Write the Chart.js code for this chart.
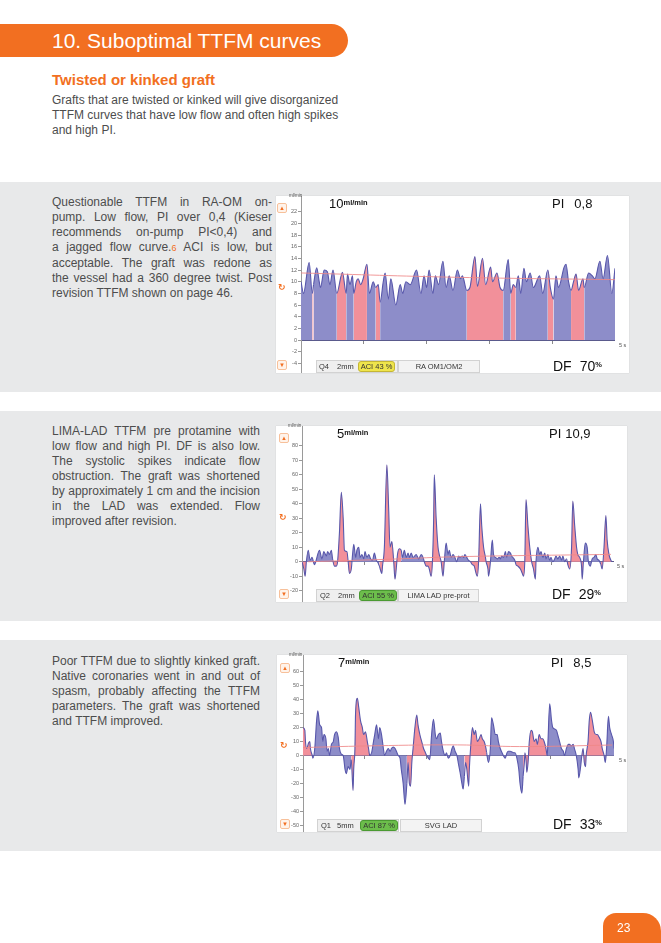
<!DOCTYPE html>
<html><head><meta charset="utf-8">
<script src="https://cdn.jsdelivr.net/npm/chart.js@4.4.1/dist/chart.umd.min.js"></script>
<style>
html,body{margin:0;padding:0;background:#fff}
body{width:661px;height:943px;position:relative;overflow:hidden;font-family:"Liberation Sans",Arial,Helvetica,sans-serif;color:#4d4d4d}
.a{position:absolute}
.hdr{left:0;top:24px;width:348px;height:33px;background:#f26f21;border-radius:0 17px 17px 0}
.hdr span{position:absolute;left:52px;top:0;line-height:33px;font-size:21px;color:#fff;white-space:nowrap}
.sub{left:52px;top:71px;font-size:15px;font-weight:bold;color:#f26f21;white-space:nowrap}
.intro{left:52px;top:93px;font-size:12px;line-height:15px;color:#4d4d4d;white-space:nowrap}
.panel{left:0;width:661px;background:#e8e9ea}
.txt{left:52px;font-size:12px;line-height:15px;color:#4d4d4d}
.txt div{text-align:justify;text-align-last:justify}
.txt div.last{text-align:left;text-align-last:left}
.ref{color:#f26f21;font-size:9px}
.box{background:#fff;box-shadow:0 0 1px rgba(0,0,0,.18)}
canvas{position:absolute}
.big{font-size:13px;color:#111;white-space:nowrap;line-height:13px}
.df{font-size:14px;color:#111;white-space:nowrap;line-height:14px}
.sup{font-size:7.5px;font-weight:bold;vertical-align:top;position:relative;top:-1px}
.tiny{font-size:4.5px;color:#555;white-space:nowrap}
.ss{font-size:5.5px;color:#555;white-space:nowrap}
.ic{width:8px;height:8px;border:1px solid #f7c09a;border-radius:2px;background:#fff3ea;color:#f26f21;font-size:6px;line-height:8px;text-align:center}
.rf{color:#f26f21;font-size:9px;font-weight:bold;font-family:"DejaVu Sans";line-height:9px}
.bar{height:11px;background:#efefef;border:1px solid #d2d2d2;font-size:7.5px;line-height:11px;color:#333;white-space:nowrap}
.bar span{position:absolute;top:0}
.bar span.badge{top:0;height:9px;line-height:9px;border-radius:3px;text-align:center;border:1px solid}
.nmc{height:11px;background:#f3f3f3;border:1px solid #d2d2d2;font-size:7.5px;line-height:11px;color:#333;white-space:nowrap;text-align:center}
.pg{left:603px;top:913px;width:58px;height:30px;background:#f26f21;border-radius:13px 18px 0 0}
.pg span{position:absolute;left:14px;top:8px;color:#fff;font-size:12px}
</style></head>
<body>
<div class="a hdr"><span>10. Suboptimal TTFM curves</span></div>
<div class="a sub">Twisted or kinked graft</div>
<div class="a intro">Grafts that are twisted or kinked will give disorganized<br>TTFM curves that have low flow and often high spikes<br>and high PI.</div>

<div class="a panel" style="top:182px;height:210px"></div>
<div class="a panel" style="top:411px;height:210px"></div>
<div class="a panel" style="top:640px;height:211px"></div>

<div class="a txt" style="top:195px;width:220px">
<div>Questionable TTFM in RA-OM on-</div>
<div>pump. Low flow, PI over 0,4 (Kieser</div>
<div>recommends on-pump PI&lt;0,4) and</div>
<div>a jagged flow curve.<span class="ref">6</span> ACI is low, but</div>
<div>acceptable. The graft was redone as</div>
<div>the vessel had a 360 degree twist. Post</div>
<div class="last">revision TTFM shown on page 46.</div>
</div>
<div class="a txt" style="top:424px;width:208px">
<div>LIMA-LAD TTFM pre protamine with</div>
<div>low flow and high PI. DF is also low.</div>
<div>The systolic spikes indicate flow</div>
<div>obstruction. The graft was shortened</div>
<div>by approximately 1 cm and the incision</div>
<div>in the LAD was extended. Flow</div>
<div class="last">improved after revision.</div>
</div>
<div class="a txt" style="top:654px;width:208px">
<div>Poor TTFM due to slightly kinked graft.</div>
<div>Native coronaries went in and out of</div>
<div>spasm, probably affecting the TTFM</div>
<div>parameters. The graft was shortened</div>
<div class="last">and TTFM improved.</div>
</div>

<!-- chart 1 -->
<div class="a box" style="left:276px;top:196px;width:353px;height:177px"></div>
<canvas id="c1" width="339" height="177" style="left:276px;top:196px;width:339px;height:177px"></canvas>
<div class="a tiny" style="left:289px;top:193px">ml/min</div>
<div class="a ic" style="left:277px;top:203px">▲</div>
<div class="a rf" style="left:278px;top:283px">↻</div>
<div class="a ic" style="left:277px;top:360px">▼</div>
<div class="a big" style="left:329px;top:197px">10<span class="sup">ml/min</span></div>
<div class="a big" style="left:552px;top:197px">PI<span style="margin-left:10px">0,8</span></div>
<div class="a df" style="left:553px;top:359px">DF<span style="margin-left:8px">70</span><span class="sup">%</span></div>
<div class="a ss" style="left:619px;top:342px">5 s</div>
<div class="a bar" style="left:316px;top:360px;width:80px">
<span style="left:2px">Q4</span><span style="left:20px">2mm</span>
<span class="badge" style="left:41px;width:35px;background:#efe54c;border-color:#c5b634">ACI 43 %</span>
</div>
<div class="a nmc" style="left:398px;top:360px;width:80px">RA OM1/OM2</div>

<!-- chart 2 -->
<div class="a box" style="left:276px;top:426px;width:351px;height:176px"></div>
<canvas id="c2" width="337" height="176" style="left:277px;top:426px;width:337px;height:176px"></canvas>
<div class="a tiny" style="left:288px;top:423px">ml/min</div>
<div class="a ic" style="left:279px;top:433px">▲</div>
<div class="a rf" style="left:279px;top:513px">↻</div>
<div class="a ic" style="left:279px;top:589px">▼</div>
<div class="a big" style="left:337px;top:427px">5<span class="sup">ml/min</span></div>
<div class="a big" style="left:549px;top:427px">PI<span style="margin-left:4px">10,9</span></div>
<div class="a df" style="left:552px;top:587px">DF<span style="margin-left:8px">29</span><span class="sup">%</span></div>
<div class="a ss" style="left:617px;top:563px">5 s</div>
<div class="a bar" style="left:316px;top:589px;width:80px">
<span style="left:3px">Q2</span><span style="left:21px">2mm</span>
<span class="badge" style="left:42px;width:36px;background:#6cbd4b;border-color:#4a9a32">ACI 55 %</span>
</div>
<div class="a nmc" style="left:398px;top:589px;width:79px">LIMA LAD pre-prot</div>

<!-- chart 3 -->
<div class="a box" style="left:277px;top:655px;width:350px;height:177px"></div>
<canvas id="c3" width="336" height="177" style="left:278px;top:655px;width:336px;height:177px"></canvas>
<div class="a tiny" style="left:289px;top:652px">ml/min</div>
<div class="a ic" style="left:280px;top:663px">▲</div>
<div class="a rf" style="left:280px;top:741px">↻</div>
<div class="a ic" style="left:280px;top:819px">▼</div>
<div class="a big" style="left:338px;top:656px">7<span class="sup">ml/min</span></div>
<div class="a big" style="left:551px;top:656px">PI<span style="margin-left:10px">8,5</span></div>
<div class="a df" style="left:553px;top:817px">DF<span style="margin-left:8px">33</span><span class="sup">%</span></div>
<div class="a ss" style="left:619px;top:757px">5 s</div>
<div class="a bar" style="left:317px;top:819px;width:80px">
<span style="left:3px">Q1</span><span style="left:19px">5mm</span>
<span class="badge" style="left:42px;width:36px;background:#6cbd4b;border-color:#4a9a32">ACI 87 %</span>
</div>
<div class="a nmc" style="left:400px;top:819px;width:80px">SVG LAD</div>

<div class="a pg"><span>23</span></div>

<script>
// ---------- data ----------
const xTicks = [1, 2, 3, 4];

// Chart 1: RA-OM on-pump (ml/min vs s)
const t1 = [0.00,0.04,0.13,0.18,0.20,0.25,0.29,0.31,0.37,0.42,
            0.46,0.51,0.57,0.66,0.72,0.74,0.78,0.82,0.84,0.88,
            0.91,0.95,0.99,1.05,1.09,1.15,1.19,1.23,1.26,1.31,
            1.34,1.39,1.43,1.51,1.58,1.62,1.67,1.74,1.84,1.91,
            1.96,2.00,2.04,2.10,2.14,2.19,2.26,2.31,2.36,2.42,
            2.49,2.54,2.57,2.64,2.69,2.77,2.81,2.89,2.94,3.02,
            3.05,3.12,3.17,3.22,3.30,3.34,3.38,3.42,3.46,3.50,
            3.55,3.59,3.65,3.70,3.80,3.85,3.93,3.97,4.02,4.06,
            4.10,4.19,4.22,4.26,4.30,4.34,4.38,4.42,4.49,4.51,
            4.58,4.64,4.68,4.76,4.81,4.88,4.95,5.00];
const flow1 = [10,8,13.3,8,9.5,12.4,10,9,12,11.7,
               9.5,12,8,11.6,8,11.3,9.5,11,8,10,
               10.5,9.5,10.5,13,8,10,9,9.5,6.5,10,
               11.5,7,10.5,6,9.5,8,10,9.5,12,8,
               11,9,12,8,11,9.5,13.5,9,11,8.5,
               12,10.5,11,8.5,9,14.3,9.2,14,9.5,12.5,
               10,11.5,9,8.5,13.8,8,9.5,9,11,8,
               12.3,10,11.5,9,11,8,12,9,7,11,
               9,12.5,13,10,8.5,10,11.3,8.5,10.5,9,
               11.5,11,10.5,13.5,10.5,14.5,8,12.3];
const pink1 = [[0.17,0.21],[0.57,0.72],[0.84,1.05],[1.20,1.26],[2.66,3.22],[3.34,3.42],[3.90,4.00],[4.30,4.51]];
const meanT1 = [0, 2.5, 5];
const mean1 = [11.5, 10.75, 10.35];
const yTicks1 = [-4,-2,0,2,4,6,8,10,12,14,16,18,20,22];

// Chart 2: LIMA-LAD pre protamine
const t2 = [0.00,0.03,0.05,0.07,0.10,0.13,0.16,0.20,0.22,0.28,
            0.32,0.35,0.39,0.41,0.44,0.47,0.49,0.52,0.55,0.57,
            0.60,0.63,0.66,0.68,0.72,0.74,0.76,0.79,0.81,0.83,
            0.86,0.88,0.91,0.93,0.96,0.99,1.01,1.04,1.07,1.10,
            1.13,1.16,1.19,1.21,1.24,1.28,1.29,1.32,1.36,1.39,
            1.41,1.44,1.47,1.49,1.51,1.53,1.56,1.59,1.61,1.64,
            1.67,1.70,1.72,1.75,1.78,1.83,1.87,1.91,1.94,1.96,
            1.99,2.02,2.04,2.07,2.09,2.11,2.12,2.15,2.18,2.20,
            2.23,2.26,2.28,2.31,2.34,2.36,2.39,2.42,2.45,2.48,
            2.51,2.53,2.57,2.59,2.61,2.64,2.67,2.70,2.73,2.76,
            2.79,2.81,2.83,2.86,2.88,2.91,2.94,2.95,2.98,2.99,
            3.02,3.05,3.07,3.10,3.13,3.16,3.18,3.20,3.23,3.26,
            3.28,3.31,3.34,3.36,3.41,3.43,3.46,3.50,3.53,3.55,
            3.57,3.59,3.62,3.65,3.68,3.71,3.74,3.75,3.78,3.81,
            3.83,3.86,3.89,3.91,3.94,3.97,3.99,4.02,4.05,4.07,
            4.10,4.13,4.16,4.18,4.21,4.24,4.26,4.29,4.32,4.34,
            4.37,4.40,4.42,4.45,4.48,4.49,4.51,4.54,4.57,4.59,
            4.62,4.65,4.68,4.71,4.73,4.76,4.79,4.81,4.84,4.87,
            4.89,4.92,4.96];
const flow2 = [0,-5,-10,0,8,1,3,-2,0,8,
               2,7,4,7,5,8,2,-3,-3,0,
               20,48,30,8,7,0,-8,-5,5,12,
               3,8,10,3,5,2,7,3,5,2,
               1,6,1,0,-3,-8,-3,10,67,35,
               10,14,0,-12,-5,5,9,8,3,8,
               3,6,3,6,3,5,2,5,3,0,
               -3,-3,-5,-10,0,30,60,30,10,5,
               0,-10,0,13,5,8,3,5,3,0,
               4,3,4,3,5,3,1,0,-2,-3,
               -8,-10,0,40,25,10,3,0,-5,-10,
               0,15,5,3,2,3,2,4,3,7,
               3,7,6,4,1,-2,-3,-5,-8,-10,
               0,43,25,10,0,-5,-12,0,10,5,
               7,3,6,2,5,1,3,0,2,4,
               2,4,1,4,0,2,-2,-5,10,42,
               25,10,5,3,-3,-12,0,13,10,0,
               -3,2,3,5,2,1,-2,-5,10,32,
               15,5,0];
const pink2 = [[0,0.07],[0.50,0.79],[1.23,1.59],[1.97,2.27],[2.71,3.02],[3.44,3.75],[4.25,4.50],[4.78,4.96]];
const meanT2 = [0.1, 1.5, 2.5, 4.95];
const mean2 = [0, 1.9, 3.5, 5.1];
const yTicks2 = [-20,-10,0,10,20,30,40,50,60,70,80];

// Chart 3: SVG LAD
const t3 = [0.00,0.03,0.04,0.06,0.09,0.11,0.12,0.15,0.16,0.19,
            0.22,0.24,0.27,0.30,0.32,0.34,0.37,0.39,0.41,0.43,
            0.46,0.49,0.51,0.54,0.57,0.59,0.62,0.65,0.68,0.70,
            0.73,0.76,0.78,0.81,0.82,0.84,0.85,0.88,0.90,0.93,
            0.96,0.98,1.01,1.04,1.06,1.08,1.11,1.14,1.16,1.19,
            1.22,1.24,1.27,1.30,1.32,1.35,1.38,1.41,1.43,1.46,
            1.49,1.51,1.54,1.57,1.59,1.62,1.65,1.68,1.70,1.72,
            1.74,1.76,1.78,1.81,1.84,1.86,1.89,1.92,1.95,1.97,
            2.00,2.03,2.05,2.08,2.11,2.14,2.16,2.19,2.22,2.24,
            2.27,2.30,2.32,2.35,2.38,2.41,2.43,2.46,2.49,2.51,
            2.54,2.57,2.59,2.61,2.63,2.65,2.68,2.69,2.71,2.74,
            2.77,2.79,2.82,2.85,2.88,2.90,2.93,2.96,2.97,3.00,
            3.03,3.05,3.08,3.11,3.14,3.16,3.19,3.22,3.24,3.27,
            3.30,3.32,3.35,3.41,3.43,3.46,3.49,3.51,3.54,3.56,
            3.58,3.59,3.61,3.62,3.64,3.66,3.69,3.71,3.74,3.77,
            3.79,3.82,3.85,3.88,3.90,3.93,3.95,3.96,3.99,4.02,
            4.04,4.07,4.10,4.12,4.15,4.18,4.21,4.23,4.26,4.29,
            4.31,4.34,4.37,4.39,4.42,4.45,4.46,4.49,4.51,4.53,
            4.55,4.57,4.58,4.61,4.63,4.65,4.68,4.71,4.74,4.76,
            4.79,4.82,4.84,4.87,4.89,4.91,4.94,4.96,4.99,5.02,
            5.03];
const flow3 = [20,18,10,5,9,10,5,0,-2,5,
               25,32,22,20,10,15,12,3,5,0,
               8,10,15,17,13,5,1,0,-10,-13,
               -8,-10,-3,-25,-10,5,30,41,35,25,
               20,15,17,10,5,0,2,10,15,22,
               12,20,15,5,0,3,5,3,5,6,
               5,3,0,-2,-10,-20,-35,-20,-5,-20,
               -22,-5,5,20,29,22,15,10,5,3,
               0,-2,-3,15,26,15,12,15,16,10,
               3,0,2,-2,0,5,7,3,0,-5,
               -12,-20,-24,-15,-5,-10,-22,-10,5,20,
               15,18,10,12,15,12,10,5,2,-5,
               5,27,22,15,15,10,5,2,0,-2,
               2,3,3,2,2,-2,-10,-20,-27,-15,
               -5,2,-5,-12,-5,10,18,17,10,12,
               8,15,12,12,10,5,0,8,37,25,
               20,19,18,15,10,5,3,0,5,8,
               8,7,8,5,0,-10,-16,-8,0,5,
               -5,-8,0,10,25,31,25,17,15,15,
               13,10,5,0,-5,5,28,20,15,10,
               5];
const pink3 = [[0,0.14],[0.78,1.08],[1.69,2.00],[2.62,2.97],[3.57,3.95],[4.51,4.87]];
const meanT3 = [0, 1.2, 2.5, 3.5, 5.0];
const mean3 = [5.7, 7.0, 7.6, 6.4, 7.5];
const yTicks3 = [-50,-40,-30,-20,-10,0,10,20,30,40,50,60];

// ---------- drawing ----------
const BLUE = '#8d8dc9', PINK = '#f2909a', LINE = '#5857ab', MEAN = 'rgba(238,135,135,0.85)';

function draw(id, T, F, spans, MT, MV, yT, yMin, yMax, xMax) {
  const n = Math.min(T.length, F.length);
  const pts = [];
  for (let i = 0; i < n; i++) pts.push({x: T[i], y: F[i]});
  const mpts = MT.map((t, i) => ({x: t, y: MV[i]}));
  const isPink = (a, b) => { const m = (a + b) / 2; return spans.some(s => m >= s[0] && m <= s[1]); };
  new Chart(document.getElementById(id), {
    type: 'line',
    data: {datasets: [
      {data: mpts, borderColor: MEAN, borderWidth: 1, pointRadius: 0, fill: false, tension: 0.4, order: 0},
      {data: pts, borderColor: LINE, borderWidth: 1.1, pointRadius: 0, fill: 'origin', backgroundColor: BLUE,
       cubicInterpolationMode: 'monotone', order: 1,
       segment: {backgroundColor: c => isPink(c.p0.parsed.x, c.p1.parsed.x) ? PINK : BLUE}}
    ]},
    options: {
      responsive: false, animation: false, events: [],
      layout: {padding: 0},
      plugins: {legend: {display: false}, tooltip: {enabled: false}},
      scales: {
        x: {type: 'linear', min: 0, max: xMax, position: {y: 0},
            afterBuildTicks: s => { s.ticks = xTicks.map(v => ({value: v})); },
            ticks: {display: false},
            grid: {drawOnChartArea: false, drawTicks: true, tickLength: 3, color: '#8a8a8a'},
            border: {color: '#5a5a8c', width: 1}},
        y: {type: 'linear', min: yMin, max: yMax,
            afterBuildTicks: s => { s.ticks = yT.map(v => ({value: v})); },
            afterFit: s => { s.width = 25; s.paddingTop = 0; s.paddingBottom = 0; },
            ticks: {font: {size: 5.5, family: 'Liberation Sans'}, color: '#666', padding: 1},
            grid: {drawOnChartArea: false, tickLength: 3, color: '#999'},
            border: {color: '#9a9a9a', width: 1}}
      }
    }
  });
}

draw('c1', t1, flow1, pink1, meanT1, mean1, yTicks1, -5.66, 24.70, 5.0);
draw('c2', t2, flow2, pink2, meanT2, mean2, yTicks2, -27.8, 93.8, 5.0);
draw('c3', t3, flow3, pink3, meanT3, mean3, yTicks3, -54.8, 72.0, 5.03);
</script>
</body></html>
